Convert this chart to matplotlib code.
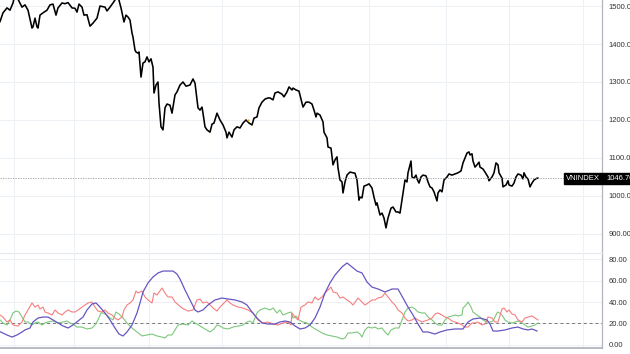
import matplotlib
matplotlib.use("Agg")
import matplotlib.pyplot as plt
from matplotlib.patches import Rectangle

plt.rcParams['font.family'] = ['Liberation Sans', 'DejaVu Sans']

# ---------------- data (time positions along the chart) -------------
price_day = [0, 3, 7, 10, 13, 14, 16, 18, 22, 25, 28, 32, 33, 35, 37, 38, 40, 43, 47, 50, 53, 56, 58,
             62, 65, 68, 72, 75, 77, 79, 82, 84, 87, 90, 93, 97, 100, 105, 107, 110, 113, 115, 118,
             121, 124, 126, 128, 130, 132, 133, 135, 136, 138, 139, 141, 143, 145, 147, 149, 151,
             153, 154, 156, 158, 159, 161, 163, 165, 167, 170, 172, 175, 177, 180, 183, 186, 190,
             193, 195, 198, 200, 202, 203, 205, 207, 210, 212, 214, 217, 220, 223, 226, 227, 229,
             232, 234, 237, 240, 243, 246, 249, 252, 254, 257, 259, 262, 265, 268, 270, 273, 275,
             278, 282, 284, 287, 289, 292, 293, 296, 299, 302, 303, 306, 309, 312, 314, 316, 317,
             320, 323, 324, 327, 328, 331, 333, 335, 337, 338, 340, 342, 343, 345, 347, 350, 353,
             355, 357, 359, 360, 362, 364, 367, 369, 372, 374, 376, 377, 380, 382, 384, 386, 388,
             391, 393, 396, 398, 400, 403, 405, 407, 408, 411, 412, 414, 416, 417, 419, 421, 423,
             426, 428, 430, 432, 434, 437, 438, 440, 442, 444, 447, 449, 452, 455, 458, 461, 463,
             465, 467, 469, 470, 472, 473, 475, 477, 479, 480, 483, 485, 488, 489, 492, 494, 496,
             498, 499, 502, 503, 506, 508, 509, 512, 514, 516, 518, 521, 523, 524, 526, 528, 530,
             532, 534, 537, 538]
price = [1459, 1482, 1495, 1489, 1508, 1520, 1525, 1518, 1497, 1503, 1489, 1442, 1445, 1468, 1445,
         1442, 1476, 1482, 1489, 1503, 1505, 1476, 1495, 1508, 1506, 1509, 1495, 1494, 1484, 1505,
         1497, 1476, 1477, 1447, 1455, 1468, 1500, 1497, 1487, 1497, 1508, 1516, 1525, 1495, 1458,
         1476, 1471, 1463, 1429, 1418, 1384, 1379, 1376, 1379, 1313, 1350, 1353, 1366, 1353, 1361,
         1339, 1271, 1292, 1300, 1245, 1182, 1174, 1232, 1242, 1239, 1218, 1266, 1274, 1292, 1300,
         1289, 1292, 1308, 1297, 1232, 1226, 1234, 1218, 1182, 1174, 1168, 1189, 1192, 1218, 1200,
         1187, 1168, 1153, 1168, 1155, 1174, 1182, 1179, 1192, 1200, 1192, 1187, 1205, 1208, 1232,
         1247, 1255, 1258, 1258, 1253, 1271, 1274, 1268, 1261, 1274, 1287, 1279, 1284, 1279, 1276,
         1245, 1234, 1247, 1247, 1242, 1226, 1208, 1218, 1213, 1195, 1168, 1153, 1129, 1126, 1082,
         1095, 1103, 1074, 1042, 1037, 1008, 1037, 1055, 1063, 1061, 1060, 1042, 989, 997, 995,
         1026, 1029, 1032, 1021, 997, 976, 982, 950, 955, 942, 916, 942, 968, 971, 958, 958, 955,
         1008, 1042, 1037, 1061, 1092, 1050, 1047, 1055, 1045, 1034, 1050, 1055, 1053, 1037, 1024,
         1021, 1011, 987, 1008, 1016, 1011, 1042, 1050, 1058, 1055, 1058, 1061, 1066, 1087, 1100,
         1113, 1116, 1108, 1111, 1092, 1076, 1082, 1089, 1076, 1071, 1063, 1050, 1040, 1050, 1061,
         1087, 1082, 1061, 1047, 1024, 1029, 1040, 1029, 1026, 1034, 1050, 1058, 1055, 1045, 1061,
         1050, 1045, 1024, 1034, 1042, 1047, 1046.7]
last_price = 1046.7
symbol = "VNINDEX"
marker_day = [248]
marker_price = [1201]

adx_day = [0, 7, 12, 17, 22, 25, 30, 33, 38, 43, 48, 53, 58, 63, 68, 73, 78, 83, 87, 92, 96, 100,
           105, 110, 115, 119, 123, 127, 132, 137, 140, 143, 148, 153, 158, 163, 168, 173, 177,
           180, 185, 190, 195, 198, 203, 208, 215, 222, 228, 235, 242, 247, 252, 257, 262, 268,
           275, 280, 285, 290, 295, 300, 305, 310, 315, 320, 325, 330, 335, 342, 347, 352, 357,
           362, 367, 372, 378, 385, 392, 398, 403, 408, 413, 418, 423, 428, 435, 440, 447, 455,
           463, 468, 473, 480, 487, 490, 493, 498, 505, 512, 518, 523, 528, 532, 537]
adx = [12.4, 9.3, 7.4, 9.3, 12.1, 14.0, 15.8, 21.4, 25.1, 26.0, 26.0, 23.3, 20.5, 17.7, 15.8, 18.6,
       22.3, 26.0, 32.6, 38.1, 39.1, 35.3, 29.8, 23.3, 15.8, 10.2, 8.4, 12.1, 18.6, 29.8, 39.1,
       49.3, 57.7, 63.3, 67.0, 68.8, 68.8, 68.8, 66.0, 61.4, 51.2, 41.9, 32.6, 30.7, 32.6, 37.2,
       41.9, 43.7, 42.8, 41.9, 40.0, 37.2, 30.7, 25.1, 20.5, 19.5, 19.5, 21.4, 22.3, 21.4, 17.7,
       14.9, 15.8, 18.6, 25.1, 35.3, 48.4, 57.7, 65.1, 72.6, 76.3, 72.6, 68.8, 67.0, 58.6, 53.9,
       52.1, 49.3, 52.1, 52.1, 43.7, 35.3, 27.9, 19.5, 12.1, 12.1, 10.2, 12.1, 14.0, 14.9, 14.9,
       21.4, 24.2, 25.1, 23.3, 19.5, 13.0, 13.0, 14.0, 15.8, 16.7, 14.9, 14.0, 14.9, 13.0]

pdi_day = [0, 3, 7, 10, 13, 18, 22, 25, 28, 32, 35, 38, 40, 43, 45, 48, 52, 55, 58, 62, 65, 68, 72,
           75, 78, 82, 85, 88, 92, 95, 98, 102, 105, 108, 112, 115, 118, 122, 124, 127, 130, 133,
           136, 138, 142, 145, 148, 152, 154, 157, 162, 165, 168, 172, 175, 182, 188, 193, 197,
           200, 203, 207, 210, 213, 217, 220, 223, 227, 230, 233, 238, 243, 248, 253, 258, 263,
           268, 273, 278, 283, 288, 291, 292, 295, 298, 301, 305, 308, 312, 315, 318, 322, 325,
           328, 331, 333, 337, 340, 343, 347, 350, 353, 358, 362, 365, 368, 372, 375, 378, 382,
           385, 388, 392, 395, 398, 402, 405, 408, 412, 415, 418, 422, 425, 428, 432, 435, 438,
           442, 445, 448, 452, 455, 458, 462, 465, 468, 472, 475, 478, 482, 485, 488, 492, 495,
           498, 502, 504, 507, 509, 512, 515, 518, 522, 525, 528, 532, 535, 538]
pdi = [27.9, 26.0, 21.4, 23.3, 18.6, 17.7, 21.4, 27.9, 32.6, 39.1, 35.3, 37.2, 33.5, 35.3, 30.7,
       29.8, 27.9, 32.6, 29.8, 27.9, 30.7, 32.6, 30.7, 30.7, 32.6, 35.3, 37.2, 39.1, 40.0, 35.3,
       31.6, 30.7, 32.6, 29.8, 27.9, 25.1, 23.3, 26.0, 32.6, 37.2, 39.1, 41.9, 50.2, 48.4, 50.2,
       44.7, 41.9, 39.1, 48.4, 46.5, 53.0, 48.4, 44.7, 44.7, 40.0, 34.4, 31.6, 32.6, 41.9, 42.8,
       39.1, 40.0, 37.2, 34.4, 31.6, 35.3, 38.1, 41.9, 39.1, 37.2, 35.3, 34.4, 32.6, 29.8, 23.3,
       20.5, 21.4, 19.5, 18.6, 20.5, 21.4, 18.6, 29.8, 26.0, 23.3, 35.3, 37.2, 40.0, 39.1, 44.7,
       41.9, 44.7, 48.4, 51.2, 53.9, 49.3, 48.4, 43.7, 44.7, 41.9, 40.0, 37.2, 43.7, 40.0, 37.2,
       39.1, 41.9, 41.9, 43.7, 44.7, 48.4, 44.7, 40.0, 37.2, 32.6, 29.8, 25.1, 22.3, 23.3, 25.1,
       23.3, 21.4, 22.3, 23.3, 25.1, 28.8, 29.8, 27.9, 26.0, 25.1, 22.3, 21.4, 20.5, 18.6, 16.7,
       16.7, 20.5, 20.5, 21.4, 18.6, 19.5, 26.0, 25.1, 21.4, 21.4, 33.5, 34.4, 30.7, 32.6, 28.8,
       27.9, 23.3, 21.4, 25.1, 26.0, 27.0, 25.1, 23.3]

mdi_day = [0, 3, 7, 10, 13, 16, 19, 22, 25, 28, 32, 35, 38, 42, 45, 48, 53, 58, 63, 67, 70, 73, 77,
           82, 87, 92, 95, 98, 101, 103, 107, 110, 113, 116, 119, 123, 127, 132, 137, 142, 147,
           152, 157, 162, 165, 168, 172, 175, 178, 183, 188, 192, 195, 200, 205, 210, 214, 217,
           220, 223, 228, 233, 238, 243, 247, 250, 253, 257, 260, 265, 270, 273, 277, 280, 283,
           288, 291, 293, 296, 299, 303, 307, 312, 317, 322, 327, 332, 337, 342, 345, 348, 352,
           357, 360, 362, 365, 368, 372, 375, 378, 382, 385, 388, 391, 395, 399, 402, 405, 408,
           412, 415, 418, 422, 425, 428, 432, 435, 438, 442, 445, 448, 452, 455, 458, 462, 463,
           466, 468, 471, 473, 477, 480, 483, 487, 490, 493, 497, 498, 502, 505, 508, 512, 515,
           518, 522, 525, 528, 532, 535, 538]
mdi = [23.3, 20.5, 18.6, 23.3, 29.8, 31.6, 30.7, 26.0, 21.4, 21.4, 18.6, 20.5, 21.4, 18.6, 20.5,
       21.4, 22.3, 20.5, 21.4, 22.3, 20.5, 19.5, 16.7, 16.7, 14.9, 15.8, 18.6, 23.3, 29.8, 29.8,
       27.9, 25.1, 23.3, 30.7, 28.8, 25.1, 20.5, 15.8, 12.1, 8.4, 9.3, 10.2, 8.4, 7.4, 6.5, 9.3,
       9.3, 14.0, 18.6, 19.5, 18.6, 22.3, 20.5, 17.7, 14.9, 12.1, 14.9, 18.6, 17.7, 15.8, 14.9,
       16.7, 17.7, 18.6, 21.4, 22.3, 20.5, 29.8, 32.6, 34.4, 32.6, 34.4, 29.8, 32.6, 27.9, 29.8,
       30.7, 25.1, 27.0, 23.3, 21.4, 20.5, 16.7, 14.0, 11.2, 9.3, 8.4, 7.4, 5.6, 6.5, 11.2, 11.2,
       12.1, 10.2, 7.4, 14.0, 16.7, 15.8, 16.7, 14.9, 15.8, 12.1, 9.3, 14.0, 15.8, 15.8, 23.3,
       30.7, 34.4, 35.3, 33.5, 30.7, 29.8, 29.8, 26.0, 23.3, 20.5, 18.6, 18.6, 23.3, 26.0, 27.0,
       27.9, 27.0, 27.9, 34.4, 37.2, 40.0, 35.3, 30.7, 27.9, 26.0, 23.3, 21.4, 21.4, 22.3, 29.8,
       30.7, 27.9, 23.3, 21.4, 20.5, 21.4, 22.3, 20.5, 18.6, 16.7, 17.7, 18.6, 20.5]

adx_level = 20
price_ticks = [900, 1000, 1100, 1200, 1300, 1400, 1500]
ind_ticks = [0, 20, 40, 60, 80]
time_grid = [14, 74, 149, 222, 299, 369, 446, 509, 583]

# ---------------- figure ----------------
W, H = 630, 354
fig = plt.figure(figsize=(W / 100, H / 100), dpi=100)
fig.patch.set_facecolor('white')

grid_c = '#edf1f6'
axis_c = '#b2b5be'
text_c = '#333333'
fs = 5.5

ax = fig.add_axes([0, 1 - 252 / H, 602 / W, 252 / H])
ax2 = fig.add_axes([0, 1 - 348 / H, 602 / W, 95 / H])

for a in (ax, ax2):
    a.set_xlim(0, 602)
    a.set_xticks(time_grid)
    a.tick_params(axis='x', length=0, labelbottom=False)
    a.yaxis.tick_right()
    a.tick_params(axis='y', length=0, pad=5, labelsize=fs, labelcolor=text_c)
    a.grid(True, color=grid_c, lw=0.8)
    a.set_axisbelow(True)
    for s in ('left', 'top', 'bottom'):
        a.spines[s].set_visible(False)
    a.spines['right'].set_color(axis_c)
    a.spines['right'].set_linewidth(0.9)

# price pane
ax.set_ylim(852.6, 1515.8)
ax.set_yticks(price_ticks)
ax.set_yticklabels([f"{v:.2f}" for v in price_ticks])
ax.plot(price_day, price, color='#000000', lw=1.15, solid_joinstyle='round')
ax.plot(marker_day, marker_price, 'o', color='#f5a623', ms=1.6, mew=0)
ax.axhline(last_price, xmax=564 / 602, color='#9a9a9a', lw=0.6, ls=(0, (1.5, 1.5)))

# label for last value
yl = 1 - 179 / H
fig.patches.append(Rectangle((564 / W, yl - 5.5 / H), 66 / W, 11 / H,
                             transform=fig.transFigure, color='#000000', zorder=5))
fig.text(582.5 / W, yl, symbol, color='white', fontsize=fs, ha='center', va='center', zorder=6)
fig.text(606 / W, yl, f"{last_price:.2f}", color='white', fontsize=fs, ha='left',
         va='center', zorder=6)

# indicator pane
ax2.set_ylim(-2.8, 85.6)
ax2.set_yticks(ind_ticks)
ax2.set_yticklabels([f"{v:.2f}" for v in ind_ticks])
ax2.spines['top'].set_visible(True)
ax2.spines['top'].set_color('#e6e9ef')
ax2.spines['top'].set_linewidth(0.8)
ax2.spines['bottom'].set_visible(True)
ax2.spines['bottom'].set_color(axis_c)
ax2.spines['bottom'].set_linewidth(1.3)
ax2.axhline(adx_level, color='#777777', lw=0.7, ls=(0, (3, 3)))
ax2.plot(mdi_day, mdi, color='#7cc77c', lw=0.8)
ax2.plot(pdi_day, pdi, color='#f77f7f', lw=0.8)
ax2.plot(adx_day, adx, color='#6656c2', lw=0.9)

fig.savefig('out.png', dpi=100)
